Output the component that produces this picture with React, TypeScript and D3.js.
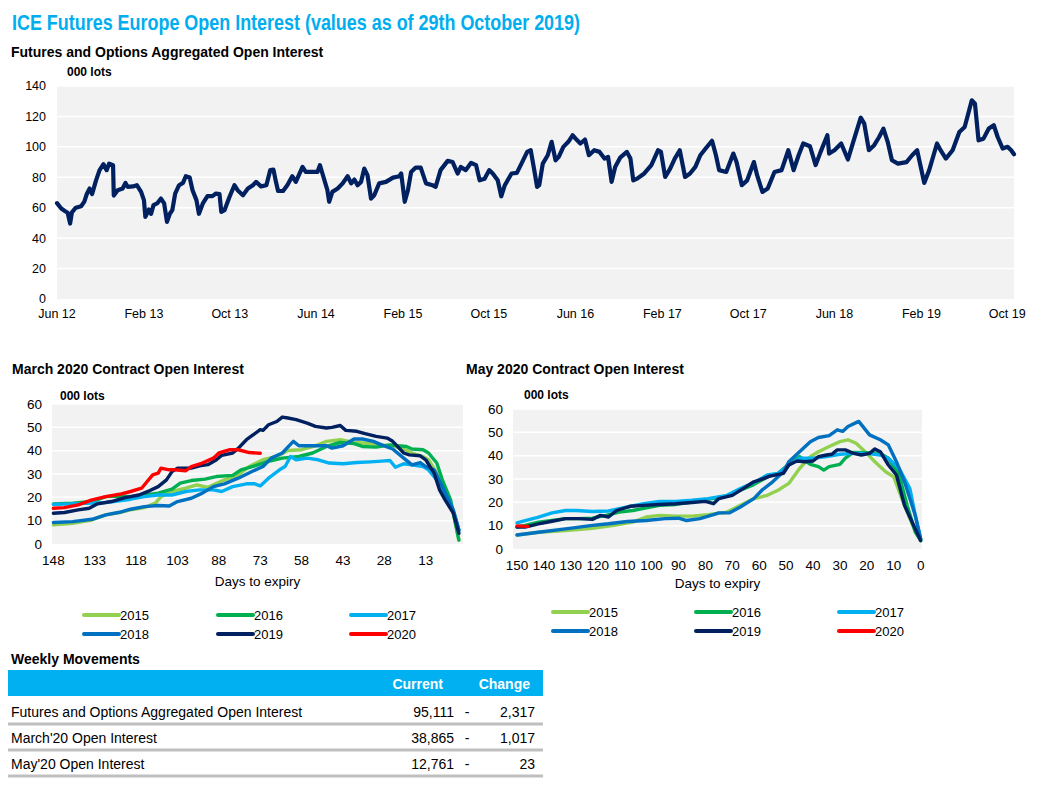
import React from "react";
import * as d3 from "d3";

// ---------- DATA ----------
const TOP_SERIES: [string, number][] = [
  ["2012-06-01",63],["2012-06-13",59.5],["2012-06-22",58],["2012-07-01",56.7],["2012-07-08",49.6],["2012-07-13",57],["2012-07-24",60],["2012-08-08",61],["2012-08-17",64],["2012-08-24",69],["2012-09-01",72.6],["2012-09-08",69],["2012-09-19",78],["2012-09-29",84.7],["2012-10-10",88.6],["2012-10-19",84.7],["2012-10-26",89],["2012-11-06",88],["2012-11-08",68],["2012-11-19",71.5],["2012-12-03",72.6],["2012-12-11",76.3],["2012-12-17",73.7],["2013-01-01",74],["2013-01-12",74.8],["2013-01-24",70.4],["2013-02-01",65],["2013-02-05",54],["2013-02-15",58.8],["2013-02-21",56],["2013-02-28",61.7],["2013-03-10",62.8],["2013-03-21",66],["2013-03-30",62.8],["2013-04-07",50.7],["2013-04-15",56],["2013-04-22",58.4],["2013-04-30",69.3],["2013-05-11",74.8],["2013-05-22",76.3],["2013-05-30",80.7],["2013-06-10",79.8],["2013-06-18",71.5],["2013-06-29",65],["2013-07-06",56],["2013-07-17",62.8],["2013-07-30",67.6],["2013-08-13",67.6],["2013-08-23",69.3],["2013-09-02",68.9],["2013-09-07",57.3],["2013-09-16",58.4],["2013-09-30",67],["2013-10-14",74.8],["2013-10-23",71.5],["2013-11-07",68.2],["2013-11-21",72.6],["2013-12-05",74.8],["2013-12-14",77],["2013-12-28",74],["2014-01-12",74.8],["2014-01-23",84.7],["2014-02-01",85],["2014-02-08",77],["2014-02-14",71],["2014-02-28",71],["2014-03-12",74.8],["2014-03-26",80.7],["2014-04-05",77],["2014-04-24",86.8],["2014-05-03",83.5],["2014-05-17",83.5],["2014-06-05",83.5],["2014-06-12",88],["2014-06-19",82.5],["2014-07-03",71.5],["2014-07-08",63.9],["2014-07-17",70.4],["2014-08-01",72.6],["2014-08-15",76],["2014-08-29",80.7],["2014-09-08",76],["2014-09-17",78.5],["2014-09-26",74.8],["2014-10-06",77],["2014-10-15",85.7],["2014-10-24",81.4],["2014-11-03",66],["2014-11-12",68.2],["2014-11-26",76],["2014-12-15",77],["2015-01-04",79.8],["2015-01-22",80.7],["2015-01-27",82.5],["2015-02-06",63.9],["2015-02-15",71.5],["2015-02-24",83.5],["2015-03-09",86.4],["2015-03-23",86.4],["2015-04-07",76],["2015-04-25",74.8],["2015-05-04",73.7],["2015-05-18",84.7],["2015-06-07",90.8],["2015-06-21",90],["2015-07-05",82.5],["2015-07-14",86.8],["2015-07-28",84.7],["2015-08-12",89.5],["2015-08-26",88],["2015-09-05",78],["2015-09-19",79],["2015-10-02",84.7],["2015-10-12",82.5],["2015-10-26",78],["2015-11-05",67.5],
  ["2015-11-15",74.8],["2015-12-04",82.5],["2015-12-19",82.9],["2016-01-03",90],["2016-01-17",96.7],["2016-01-27",97.8],["2016-02-06",84.7],["2016-02-14",73.7],["2016-02-20",74.8],["2016-03-01",89],["2016-03-15",94.5],["2016-03-26",103.3],["2016-04-06",91.2],["2016-04-15",93.4],["2016-04-28",100],["2016-05-12",103.3],["2016-05-24",107.6],["2016-06-06",104.3],["2016-06-15",102.2],["2016-06-28",104.8],["2016-07-09",94.5],["2016-07-24",97.8],["2016-08-08",96.7],["2016-08-22",92.3],["2016-09-01",93.4],["2016-09-11",77],["2016-09-21",86.8],["2016-10-05",92.9],["2016-10-24",96.7],["2016-11-03",92.3],["2016-11-11",78],["2016-11-22",79.1],["2016-12-12",82.5],["2017-01-01",88],["2017-01-20",97.8],["2017-01-28",96.7],["2017-02-09",80.2],["2017-02-23",85.7],["2017-03-08",92.3],["2017-03-22",97.8],["2017-04-06",80.2],["2017-04-20",82.5],["2017-05-05",86.8],["2017-05-19",94.5],["2017-06-03",98.9],["2017-06-21",104],["2017-07-02",94.5],["2017-07-11",84.7],["2017-07-31",83.5],["2017-08-20",95.6],["2017-08-29",90],["2017-09-13",74.8],["2017-09-28",78],["2017-10-17",90],["2017-10-26",81.4],["2017-11-10",70.4],["2017-11-25",72.6],["2017-12-14",83.5],["2018-01-03",84.7],["2018-01-22",97.8],["2018-02-06",84.7],["2018-02-20",94.5],["2018-03-05",102.2],["2018-03-24",100.4],["2018-04-09",88],["2018-04-23",96.7],["2018-05-12",107.6],["2018-05-17",95.6],["2018-06-01",97.8],["2018-06-20",102.2],["2018-07-09",91.7],["2018-07-24",103.3],["2018-08-14",119.2],["2018-08-24",115.3],["2018-09-06",97.8],["2018-09-21",101.1],["2018-10-05",106.5],["2018-10-17",112],["2018-10-29",103.3],["2018-11-10",91.2],["2018-11-27",89],["2018-12-21",90],["2019-01-06",94.5],["2019-01-20",97.8],["2019-02-09",76.3],["2019-02-23",84.7],["2019-03-17",102.2],["2019-03-27",97.8],["2019-04-11",92.3],["2019-04-30",97.8],["2019-05-19",109.8],["2019-06-03",113.1],["2019-06-13",121.8],["2019-06-23",130.6],["2019-07-02",128.4],["2019-07-12",104.3],["2019-07-26",105.4],["2019-08-10",112],["2019-08-24",114.2],["2019-09-04",106.5],["2019-09-18",98.9],["2019-10-02",100],["2019-10-12",97.8],["2019-10-20",95.1]
];
const TOP_DOMAIN = ["2012-06-01", "2019-10-20"];
const TOP_TICKS = ["2012-06-01","2013-02-01","2013-10-01","2014-06-01","2015-02-01","2015-10-01","2016-06-01","2017-02-01","2017-10-01","2018-06-01","2019-02-01","2019-10-01"];
const TOP_Y_TICKS = [0, 20, 40, 60, 80, 100, 120, 140];

const YEARS = ["2015", "2016", "2017", "2018", "2019", "2020"];
const YEAR_COLORS = ["#92D050", "#00B050", "#00B0F0", "#0070C0", "#002060", "#FF0000"];

const MAR_2015: [number, number][] = [[148,8.2],[141,8.9],[134,10.3],[129,12.5],[124,13.5],[120,14.6],[115,15.6],[111,17.5],[109,20.3],[105,22.5],[100,23.9],[96,25.3],[92,24.3],[86,27.5],[81,29.6],[77,33.2],[72,36.1],[67,37.5],[63,40.1],[58,40.4],[53,42.1],[49,44],[44,44.7],[39,43.5],[35,43.2],[30,42.5],[25,42.1],[21,40.7],[18,39],[14,37.5],[12,36.1],[9,30.4],[7,23.2],[3,13.2],[1,1.7]];
const MAR_2016: [number, number][] = [[148,17.2],[141,17.5],[134,18.2],[129,20.3],[124,20.6],[120,20.3],[115,21],[110,21.8],[105,23.5],[102,26.1],[98,27.2],[93,27.8],[89,28.9],[83,29.4],[80,31.8],[75,33.5],[70,35.4],[65,36.8],[59,37.5],[54,39],[49,41.8],[44,43.5],[39,43],[36,41.8],[31,41.5],[26,42.5],[23,42.1],[20,41.8],[18,40.7],[14,40.4],[12,39],[9,34.7],[7,27.5],[4,18.9],[2,7.4],[1,1.7]];
const MAR_2017: [number, number][] = [[148,17],[141,17.2],[134,17.5],[129,17.8],[124,18.5],[120,19.2],[115,20.3],[110,21],[105,21],[100,22.5],[95,23.2],[90,23.2],[87,22.5],[83,24.6],[78,25.8],[75,25.8],[73,24.9],[70,28.2],[66,31.8],[64,33.2],[62,37.5],[60,36.1],[56,36.8],[52,36.1],[48,34.7],[43,34.4],[38,34.9],[33,35.2],[29,35.5],[26,35.8],[24,32.9],[21,34.4],[18,33.9],[14,33.2],[12,31.8],[8,26.1],[4,17.5],[2,10.3],[1,6]];
const MAR_2018: [number, number][] = [[148,9.2],[141,9.6],[134,10.6],[129,12.5],[124,13.6],[120,14.9],[115,16],[110,16.5],[106,16.3],[103,18.2],[98,19.6],[94,21.8],[90,24.6],[86,25.8],[81,28.2],[76,31.1],[72,33.2],[69,36.8],[65,39],[63,41.5],[61,44],[59,42.1],[54,42.1],[49,42.1],[47,41.1],[43,42.1],[39,45],[36,45],[32,44],[29,42.5],[25,40.7],[21,36.8],[18,33.9],[15,34.9],[13,33.2],[10,31.8],[7,24.6],[3,14.6],[1,6]];
const MAR_2019: [number, number][] = [[148,13.2],[144,13.5],[139,14.6],[135,15.3],[132,17.2],[127,18.2],[122,19.9],[117,21],[113,22.9],[110,24.6],[107,27.5],[105,31],[103,32.5],[100,32.5],[98,32.5],[95,33.5],[92,34],[89,36],[87,38],[83,39],[81,41],[78,44.7],[76,46.4],[73,49],[72,48.7],[70,51.1],[67,52.5],[65,54.4],[63,54],[60,53.3],[56,51.8],[53,50.4],[49,49.7],[47,50],[44,50.8],[42,48.7],[38,48.3],[35,47.3],[31,46.1],[27,45.4],[25,44],[23,41.5],[21,39],[19,38.2],[15,37.8],[13,36.1],[10,30.4],[8,23.2],[6,18.9],[3,13.2],[1,4.6]];
const MAR_2020: [number, number][] = [[148,15.3],[144,15.6],[139,16.8],[134,18.9],[129,20.3],[124,21.3],[120,22.5],[116,23.9],[114,26.8],[112,29.6],[110,30.4],[109,32.5],[106,31.8],[104,31.8],[100,31.4],[98,33.2],[94,34.7],[90,36.8],[88,39],[84,40.4],[81,40.4],[77,39.2],[73,38.9]];

const MAY_2015: [number, number][] = [[150,6],[142,7.2],[132,7.9],[122,8.9],[114,10.1],[107,11.5],[102,13.7],[97,14.4],[91,14.1],[85,14.1],[79,14.7],[72,15.8],[67,18.7],[62,21.6],[57,23],[53,25.2],[49,28.1],[45,34.5],[41,39.6],[38,41.7],[34,43.9],[30,46],[27,46.8],[24,45.3],[20,41],[17,37.4],[13,33.1],[10,30.9],[7,21.6],[3,10.1],[0,4.3]];
const MAY_2016: [number, number][] = [[150,9.4],[147,10.1],[142,11.5],[137,12.2],[132,13],[127,13],[122,13.2],[117,14.4],[112,15.8],[107,16.5],[102,17.6],[97,18.7],[91,19.1],[85,20.1],[79,21.3],[72,22.7],[67,25.2],[62,27.6],[57,30.9],[53,32.4],[49,36.3],[45,39.6],[41,36.3],[38,35.3],[36,33.8],[34,35.3],[30,36.3],[28,38.9],[25,41.4],[20,41.3],[15,41],[12,38.9],[8,31.7],[5,18.7],[2,7.2],[0,3.6]];
const MAY_2017: [number, number][] = [[150,11.2],[147,12.2],[142,13.7],[137,15.5],[132,16.5],[128,16.5],[122,16.1],[116,16.3],[109,18],[103,19.4],[97,20.4],[91,20.4],[85,20.9],[79,21.6],[72,23],[67,25.9],[62,28.5],[57,31.7],[53,32.4],[49,36],[45,38.9],[40,38.9],[35,39.6],[30,40.6],[25,41],[20,41],[15,40.3],[12,38.9],[8,34.5],[4,25.9],[2,14.4],[0,4.3]];
const MAY_2018: [number, number][] = [[150,6],[142,7.2],[132,8.6],[122,10.1],[116,10.8],[109,11.8],[102,12.2],[95,13],[90,13.2],[87,12.2],[82,13],[77,14.7],[75,15.5],[71,15.5],[67,18],[62,21.6],[59,25.2],[55,28.8],[51,33.1],[49,37.4],[45,41.7],[41,46],[38,47.8],[34,48.6],[31,51.1],[29,50.4],[27,52.5],[23,54.7],[19,48.9],[15,46.8],[12,44.6],[9,37.4],[6,28.8],[2,14.4],[0,4.3]];
const MAY_2019: [number, number][] = [[150,9.4],[147,9.4],[142,10.8],[137,11.9],[132,13],[127,13],[122,12.7],[119,14.4],[116,13.7],[113,16.5],[108,18.3],[103,18.7],[97,19.1],[91,19.4],[85,19.9],[80,20.4],[77,19.4],[75,21.6],[70,23],[66,25.9],[62,28.8],[60,29.5],[56,31.2],[51,32.4],[49,36],[46,37.7],[43,37.4],[40,37.7],[38,39.6],[35,40.3],[33,40.6],[31,42.5],[28,42.5],[25,41],[22,40.3],[19,41],[17,42.9],[15,41.7],[12,36],[9,31.7],[6,18.7],[2,8.6],[0,3.6]];
const MAY_2020: [number, number][] = [[150,9.9],[148,9.8],[146,9.7]];

const MARCH_SERIES = [MAR_2015, MAR_2016, MAR_2017, MAR_2018, MAR_2019, MAR_2020];
const MAY_SERIES = [MAY_2015, MAY_2016, MAY_2017, MAY_2018, MAY_2019, MAY_2020];
const MARCH_X_TICKS = [148, 133, 118, 103, 88, 73, 58, 43, 28, 13];
const MAY_X_TICKS = [150, 140, 130, 120, 110, 100, 90, 80, 70, 60, 50, 40, 30, 20, 10, 0];
const SMALL_Y_TICKS = [0, 10, 20, 30, 40, 50, 60];

const TABLE_LABELS = ["Futures and Options Aggregated Open Interest", "March'20 Open Interest", "May'20 Open Interest"];
const TABLE_CURRENT = ["95,111", "38,865", "12,761"];
const TABLE_SIGN = ["-", "-", "-"];
const TABLE_CHANGE = ["2,317", "1,017", "23"];

// ---------- RENDER ----------
const FONT = "'Liberation Sans', Arial, Helvetica, sans-serif";
const parse = d3.timeParse("%Y-%m-%d");
const fmt = d3.timeFormat("%b %y");

function TopChart() {
  const x = d3.scaleTime().domain(TOP_DOMAIN.map((d) => parse(d) as Date)).range([57, 1014]);
  const y = d3.scaleLinear().domain([0, 140]).range([299, 86]);
  const line = d3
    .line<[string, number]>()
    .x((d) => x(parse(d[0]) as Date))
    .y((d) => y(d[1]));
  return (
    <g>
      <rect x={57} y={86} width={1014 - 57} height={299 - 86} fill="#F2F2F2" />
      {TOP_Y_TICKS.slice(1).map((t) => (
        <line key={t} x1={57} x2={1014} y1={y(t)} y2={y(t)} stroke="#fff" strokeWidth={1.5} />
      ))}
      {TOP_Y_TICKS.map((t) => (
        <text key={t} x={46} y={y(t)} dy="0.35em" textAnchor="end" fontSize={12.5} fill="#000">
          {t}
        </text>
      ))}
      {TOP_TICKS.map((t) => (
        <text key={t} x={x(parse(t) as Date)} y={318} textAnchor="middle" fontSize={12.5} fill="#000">
          {fmt(parse(t) as Date)}
        </text>
      ))}
      <path d={line(TOP_SERIES) || ""} fill="none" stroke="#002060" strokeWidth={4.2} strokeLinejoin="round" strokeLinecap="round" />
      <text x={67} y={76} fontSize={12} fontWeight="bold">000 lots</text>
    </g>
  );
}

function SmallChart(props: {
  series: [number, number][][];
  xDomain: [number, number];
  x0: number; x1: number; yTop: number; yBot: number;
  xTicks: number[];
  title: string; titleX: number;
  yLabelX: number;
  lotsX: number; lotsY: number;
  axisTitleY: number;
}) {
  const { series, xDomain, x0, x1, yTop, yBot, xTicks } = props;
  const x = d3.scaleLinear().domain(xDomain).range([x0, x1]);
  const y = d3.scaleLinear().domain([0, 60]).range([yBot, yTop]);
  const line = d3.line<[number, number]>().x((d) => x(d[0])).y((d) => y(d[1]));
  return (
    <g>
      <text x={props.titleX} y={374} fontSize={14} fontWeight="bold">{props.title}</text>
      <rect x={x0} y={yTop} width={x1 - x0} height={yBot - yTop} fill="#F2F2F2" />
      {SMALL_Y_TICKS.slice(1).map((t) => (
        <line key={t} x1={x0} x2={x1} y1={y(t)} y2={y(t)} stroke="#fff" strokeWidth={1.5} />
      ))}
      {SMALL_Y_TICKS.map((t) => (
        <text key={t} x={props.yLabelX} y={y(t)} dy="0.35em" textAnchor="end" fontSize={13.5}>{t}</text>
      ))}
      {xTicks.map((t) => (
        <text key={t} x={x(t)} y={yBot + 21} textAnchor="middle" fontSize={13.5}>{t}</text>
      ))}
      <text x={(x0 + x1) / 2} y={props.axisTitleY} textAnchor="middle" fontSize={13.5}>Days to expiry</text>
      <text x={props.lotsX} y={props.lotsY} fontSize={12} fontWeight="bold">000 lots</text>
      {series.map((s, i) => (
        <path key={i} d={line(s) || ""} fill="none" stroke={YEAR_COLORS[i]} strokeWidth={3.4} strokeLinejoin="round" strokeLinecap="round" />
      ))}
    </g>
  );
}

function Legend(props: { xs: number[]; ys: number[] }) {
  return (
    <g>
      {YEARS.map((yr, i) => {
        const cx = props.xs[i % 3];
        const cy = props.ys[Math.floor(i / 3)];
        return (
          <g key={yr}>
            <line x1={cx} x2={cx + 35} y1={cy} y2={cy} stroke={YEAR_COLORS[i]} strokeWidth={4} strokeLinecap="round" />
            <text x={cx + 36} y={cy} dy="0.35em" fontSize={13}>{yr}</text>
          </g>
        );
      })}
    </g>
  );
}

function Table() {
  const rowY = [712, 738, 764];
  return (
    <g>
      <text x={11} y={664} fontSize={14} fontWeight="bold">Weekly Movements</text>
      <rect x={8} y={670} width={535} height={26} fill="#00B0F0" />
      <text x={443} y={689} textAnchor="end" fontSize={14} fontWeight="bold" fill="#fff">Current</text>
      <text x={530} y={689} textAnchor="end" fontSize={14} fontWeight="bold" fill="#fff">Change</text>
      {TABLE_LABELS.map((lab, i) => (
        <g key={lab}>
          <text x={11} y={rowY[i]} dy="0.35em" fontSize={14}>{lab}</text>
          <text x={454} y={rowY[i]} dy="0.35em" textAnchor="end" fontSize={14}>{TABLE_CURRENT[i]}</text>
          <text x={467} y={rowY[i]} dy="0.35em" textAnchor="middle" fontSize={14}>{TABLE_SIGN[i]}</text>
          <text x={535} y={rowY[i]} dy="0.35em" textAnchor="end" fontSize={14}>{TABLE_CHANGE[i]}</text>
          <line x1={8} x2={543} y1={rowY[i] + 12} y2={rowY[i] + 12} stroke="#BFBFBF" strokeWidth={3} />
        </g>
      ))}
    </g>
  );
}

export default function App() {
  return (
    <svg width={1037} height={798} style={{ position: "absolute", left: 0, top: 0, fontFamily: FONT }}>
      <rect width={1037} height={798} fill="#fff" />
      <text x={12} y={30} fontSize={22} fontWeight="bold" fill="#00AEEF" fontFamily="'Liberation Sans Narrow', 'Arial Narrow', 'Liberation Sans', sans-serif" textLength={568} lengthAdjust="spacingAndGlyphs">
        ICE Futures Europe Open Interest (values as of 29th October 2019)
      </text>
      <text x={11} y={57} fontSize={14} fontWeight="bold">Futures and Options Aggregated Open Interest</text>
      <TopChart />
      <SmallChart series={MARCH_SERIES} xDomain={[148.5, -0.5]} x0={52} x1={463} yTop={404} yBot={544}
        xTicks={MARCH_X_TICKS} title="March 2020 Contract Open Interest" titleX={12} yLabelX={42}
        lotsX={60} lotsY={400} axisTitleY={586} />
      <SmallChart series={MAY_SERIES} xDomain={[151.5, -0.5]} x0={513} x1={922} yTop={409} yBot={549}
        xTicks={MAY_X_TICKS} title="May 2020 Contract Open Interest" titleX={466} yLabelX={503}
        lotsX={524} lotsY={399} axisTitleY={588} />
      <Legend xs={[84, 218, 351]} ys={[615, 634]} />
      <Legend xs={[553, 696, 839]} ys={[612, 631]} />
      <Table />
    </svg>
  );
}
